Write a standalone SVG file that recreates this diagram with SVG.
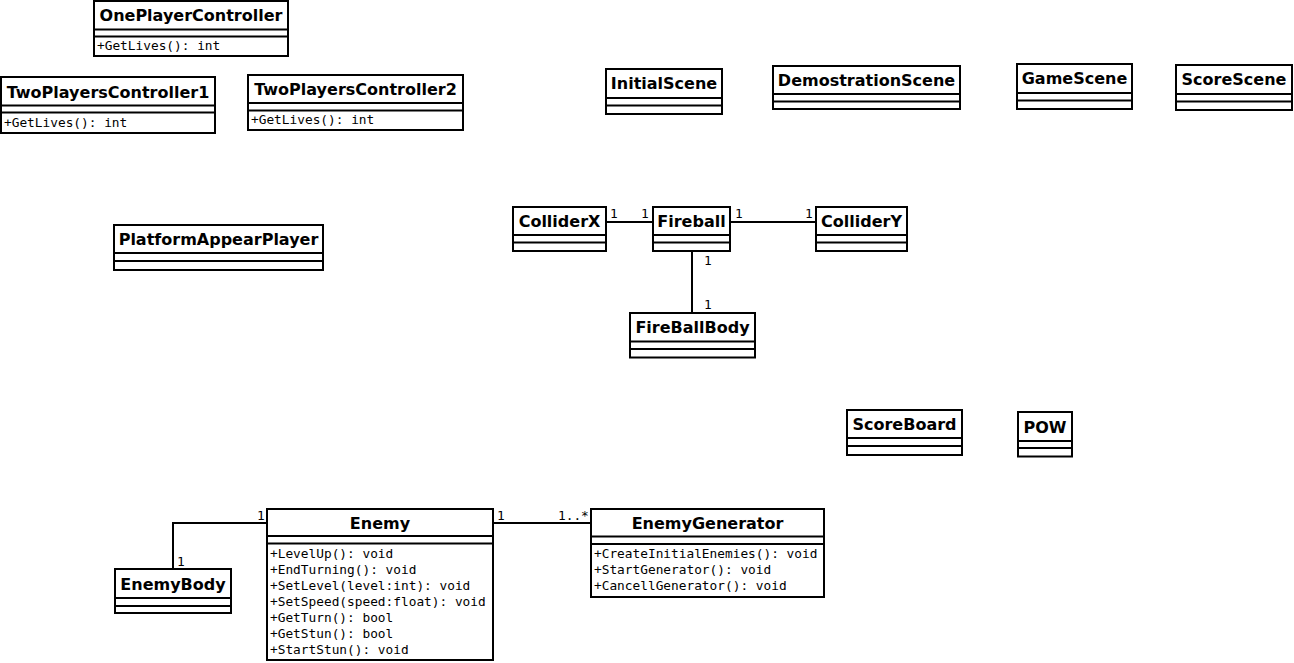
<svg xmlns="http://www.w3.org/2000/svg" width="1294" height="663" viewBox="0 0 1294 663">
<style>
.box{fill:#fff;stroke:#000;stroke-width:2}
.sep{stroke:#000;stroke-width:2}
.t{font-family:"DejaVu Sans",sans-serif;font-weight:bold;font-size:16px;text-anchor:middle;fill:#000}
.m{font-family:"DejaVu Sans Mono",monospace;font-size:12.8px;fill:#000}
.l{font-family:"DejaVu Sans Mono",monospace;font-size:12.8px;fill:#000}
.c{stroke:#000;stroke-width:2;fill:none}
</style>
<rect width="1294" height="663" fill="#fff"/>
<g id="connectors">
<line class="c" x1="606" y1="222" x2="653" y2="222"/>
<line class="c" x1="730" y1="222" x2="816" y2="222"/>
<line class="c" x1="692" y1="251" x2="692" y2="313"/>
<polyline class="c" points="267,523 173,523 173,569"/>
<line class="c" x1="493" y1="523" x2="591" y2="523"/>
<text class="l" x="610" y="218">1</text>
<text class="l" x="641" y="218">1</text>
<text class="l" x="735" y="218">1</text>
<text class="l" x="805" y="218">1</text>
<text class="l" x="704" y="265">1</text>
<text class="l" x="704" y="309">1</text>
<text class="l" x="257" y="520">1</text>
<text class="l" x="177" y="566">1</text>
<text class="l" x="497" y="520">1</text>
<text class="l" x="558" y="520">1..*</text>
</g>
<g id="OnePlayerController">
<rect class="box" x="94" y="1" width="194" height="55"/>
<line class="sep" x1="94" y1="29.5" x2="288" y2="29.5"/>
<line class="sep" x1="94" y1="36.5" x2="288" y2="36.5"/>
<text class="t" x="191" y="20.5">OnePlayerController</text>
<text class="m" x="97" y="50">+GetLives(): int</text>
</g>
<g id="TwoPlayersController1">
<rect class="box" x="1" y="77" width="214" height="56"/>
<line class="sep" x1="1" y1="105.5" x2="215" y2="105.5"/>
<line class="sep" x1="1" y1="112.5" x2="215" y2="112.5"/>
<text class="t" x="108" y="97.5">TwoPlayersController1</text>
<text class="m" x="4" y="127">+GetLives(): int</text>
</g>
<g id="TwoPlayersController2">
<rect class="box" x="248" y="75" width="215" height="55"/>
<line class="sep" x1="248" y1="103" x2="463" y2="103"/>
<line class="sep" x1="248" y1="110.5" x2="463" y2="110.5"/>
<text class="t" x="355.5" y="94.5">TwoPlayersController2</text>
<text class="m" x="251" y="124">+GetLives(): int</text>
</g>
<g id="InitialScene">
<rect class="box" x="606" y="69" width="116" height="45"/>
<line class="sep" x1="606" y1="98" x2="722" y2="98"/>
<line class="sep" x1="606" y1="105.5" x2="722" y2="105.5"/>
<text class="t" x="664" y="89">InitialScene</text>
</g>
<g id="DemostrationScene">
<rect class="box" x="773" y="66" width="187" height="43"/>
<line class="sep" x1="773" y1="94" x2="960" y2="94"/>
<line class="sep" x1="773" y1="101.5" x2="960" y2="101.5"/>
<text class="t" x="866.5" y="85.5">DemostrationScene</text>
</g>
<g id="GameScene">
<rect class="box" x="1017" y="64" width="115" height="45"/>
<line class="sep" x1="1017" y1="93" x2="1132" y2="93"/>
<line class="sep" x1="1017" y1="100.5" x2="1132" y2="100.5"/>
<text class="t" x="1074.5" y="84">GameScene</text>
</g>
<g id="ScoreScene">
<rect class="box" x="1176" y="65" width="116" height="45"/>
<line class="sep" x1="1176" y1="94" x2="1292" y2="94"/>
<line class="sep" x1="1176" y1="101.5" x2="1292" y2="101.5"/>
<text class="t" x="1234" y="85">ScoreScene</text>
</g>
<g id="PlatformAppearPlayer">
<rect class="box" x="114" y="225" width="209" height="45"/>
<line class="sep" x1="114" y1="253" x2="323" y2="253"/>
<line class="sep" x1="114" y1="261" x2="323" y2="261"/>
<text class="t" x="218.5" y="245">PlatformAppearPlayer</text>
</g>
<g id="ColliderX">
<rect class="box" x="513" y="207" width="93" height="44"/>
<line class="sep" x1="513" y1="235" x2="606" y2="235"/>
<line class="sep" x1="513" y1="242.5" x2="606" y2="242.5"/>
<text class="t" x="559.5" y="227">ColliderX</text>
</g>
<g id="Fireball">
<rect class="box" x="653" y="207" width="77" height="44"/>
<line class="sep" x1="653" y1="235" x2="730" y2="235"/>
<line class="sep" x1="653" y1="242.5" x2="730" y2="242.5"/>
<text class="t" x="691.5" y="227">Fireball</text>
</g>
<g id="ColliderY">
<rect class="box" x="816" y="207" width="91" height="44"/>
<line class="sep" x1="816" y1="235" x2="907" y2="235"/>
<line class="sep" x1="816" y1="242.5" x2="907" y2="242.5"/>
<text class="t" x="861.5" y="227">ColliderY</text>
</g>
<g id="FireBallBody">
<rect class="box" x="630" y="313" width="125" height="44.5"/>
<line class="sep" x1="630" y1="341.5" x2="755" y2="341.5"/>
<line class="sep" x1="630" y1="349" x2="755" y2="349"/>
<text class="t" x="692.5" y="333">FireBallBody</text>
</g>
<g id="ScoreBoard">
<rect class="box" x="847" y="410" width="115" height="45"/>
<line class="sep" x1="847" y1="438" x2="962" y2="438"/>
<line class="sep" x1="847" y1="446" x2="962" y2="446"/>
<text class="t" x="904.5" y="430">ScoreBoard</text>
</g>
<g id="POW">
<rect class="box" x="1018" y="412" width="54" height="44.5"/>
<line class="sep" x1="1018" y1="441" x2="1072" y2="441"/>
<line class="sep" x1="1018" y1="448" x2="1072" y2="448"/>
<text class="t" x="1045" y="432.5">POW</text>
</g>
<g id="Enemy">
<rect class="box" x="267" y="509" width="226" height="151"/>
<line class="sep" x1="267" y1="536" x2="493" y2="536"/>
<line class="sep" x1="267" y1="543.5" x2="493" y2="543.5"/>
<text class="t" x="380" y="528.5">Enemy</text>
<text class="m" x="270" y="557.5">+LevelUp(): void</text>
<text class="m" x="270" y="573.5">+EndTurning(): void</text>
<text class="m" x="270" y="589.5">+SetLevel(level:int): void</text>
<text class="m" x="270" y="605.5">+SetSpeed(speed:float): void</text>
<text class="m" x="270" y="621.5">+GetTurn(): bool</text>
<text class="m" x="270" y="637.5">+GetStun(): bool</text>
<text class="m" x="270" y="653.5">+StartStun(): void</text>
</g>
<g id="EnemyBody">
<rect class="box" x="115" y="569" width="116" height="44"/>
<line class="sep" x1="115" y1="598" x2="231" y2="598"/>
<line class="sep" x1="115" y1="606" x2="231" y2="606"/>
<text class="t" x="173" y="589.5">EnemyBody</text>
</g>
<g id="EnemyGenerator">
<rect class="box" x="591" y="509" width="233" height="88"/>
<line class="sep" x1="591" y1="536.5" x2="824" y2="536.5"/>
<line class="sep" x1="591" y1="544" x2="824" y2="544"/>
<text class="t" x="707.5" y="528.5">EnemyGenerator</text>
<text class="m" x="594" y="558">+CreateInitialEnemies(): void</text>
<text class="m" x="594" y="574">+StartGenerator(): void</text>
<text class="m" x="594" y="590">+CancellGenerator(): void</text>
</g>
</svg>
